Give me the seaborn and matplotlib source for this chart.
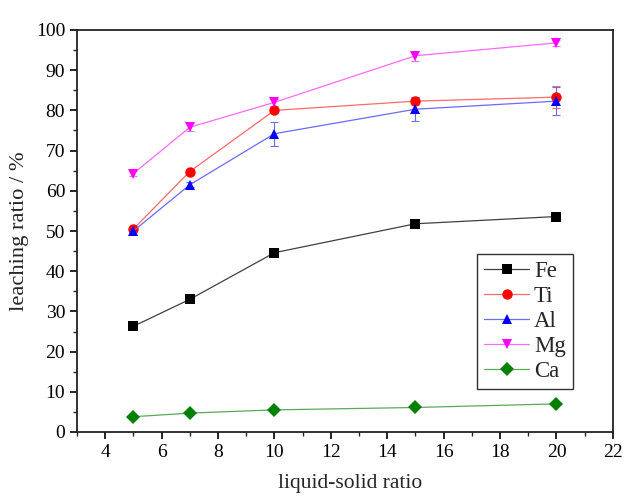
import numpy as np
import pandas as pd
import seaborn as sns
import matplotlib
matplotlib.use("Agg")
import matplotlib.pyplot as plt
from matplotlib.ticker import MultipleLocator
from matplotlib.lines import Line2D

x_vals = [5, 7, 10, 15, 20]
fe = [26.3, 33.0, 44.6, 51.8, 53.6]
ti = [50.5, 64.8, 80.0, 82.3, 83.3]
al = [50.0, 61.5, 74.2, 80.3, 82.3]
mg = [64.3, 75.8, 82.0, 93.6, 96.8]
ca = [3.8, 4.7, 5.5, 6.1, 7.0]

fe_err = [0.3, 0.3, 0.4, 0.4, 0.4]
ti_err = [0.6, 0.5, 0.5, 1.0, 2.8]
al_err = [0.8, 0.6, 3.0, 3.0, 3.4]
mg_err = [0.6, 1.0, 0.8, 1.2, 0.8]
ca_err = [0.2, 0.2, 0.2, 0.2, 0.2]

series = ["Fe", "Ti", "Al", "Mg", "Ca"]
values = [fe, ti, al, mg, ca]
errors = [fe_err, ti_err, al_err, mg_err, ca_err]
colors = {"Fe": "#000000", "Ti": "#ff0000", "Al": "#0000ff", "Mg": "#ff00ff", "Ca": "#008000"}
line_colors = {"Fe": "#404040", "Ti": "#ff6a6a", "Al": "#6a6aff", "Mg": "#ff6aff", "Ca": "#5aaa5a"}
markers = {"Fe": "s", "Ti": "o", "Al": "^", "Mg": "v", "Ca": "D"}

rows = []
for name, vals in zip(series, values):
    for xv, yv in zip(x_vals, vals):
        rows.append({"x": xv, "y": yv, "element": name})
df = pd.DataFrame(rows)

sns.set_style("ticks")
plt.rcParams['font.family'] = ['Liberation Serif', 'DejaVu Serif']

fig = plt.figure(figsize=(6.32, 5.0), dpi=100)
ax = fig.add_axes([0.1218, 0.136, 0.848, 0.804])

for name, vals, errs in zip(series, values, errors):
    ax.errorbar(x_vals, vals, yerr=errs, fmt='none', ecolor=line_colors[name],
                elinewidth=0.8, capsize=3, capthick=0.8, zorder=2)

sns.lineplot(data=df, x="x", y="y", hue="element", style="element",
             palette=colors, markers=markers, dashes=False, ax=ax,
             linewidth=0.9, markersize=7.5, markeredgewidth=0, zorder=3,
             hue_order=series, style_order=series, legend=False)

data_lines = [l for l in ax.get_lines() if len(l.get_xdata()) == len(x_vals)][-5:]
for line, name in zip(data_lines, series):
    line.set_color(line_colors[name])
    line.set_markerfacecolor(colors[name])
    line.set_markeredgecolor(colors[name])

ax.set_xlim(3, 22)
ax.set_ylim(0, 100)
ax.xaxis.set_major_locator(MultipleLocator(2))
ax.xaxis.set_minor_locator(MultipleLocator(1))
ax.yaxis.set_major_locator(MultipleLocator(10))
ax.yaxis.set_minor_locator(MultipleLocator(5))
ax.tick_params(axis='both', which='major', length=5, width=1.2, labelsize=14,
               direction='out', colors='black', top=False, right=False)
ax.tick_params(axis='both', which='minor', length=3, width=1.0, direction='out',
               top=False, right=False)
for sp in ax.spines.values():
    sp.set_linewidth(1.3)
    sp.set_color('#222222')
    sp.set_visible(True)

ax.set_xlabel("liquid-solid ratio", fontsize=15.5, labelpad=12)
ax.xaxis.set_label_coords(0.51, -0.105)
ax.set_ylabel("leaching ratio / %", fontsize=16.2, labelpad=5)

handles = [Line2D([0], [0], color=line_colors[n], lw=0.9, marker=markers[n],
                  markerfacecolor=colors[n], markeredgecolor=colors[n],
                  markersize=7.5, markeredgewidth=0) for n in series]
leg = ax.legend(handles, series, loc='upper left', bbox_to_anchor=(0.746, 0.443),
                fontsize=16.5, frameon=True, fancybox=False, edgecolor='#333333',
                framealpha=1, handlelength=2.0, handletextpad=0.2, borderpad=0.3,
                labelspacing=0.18, borderaxespad=0)
leg.get_frame().set_linewidth(1.0)

fig.savefig("out.png", dpi=100)
